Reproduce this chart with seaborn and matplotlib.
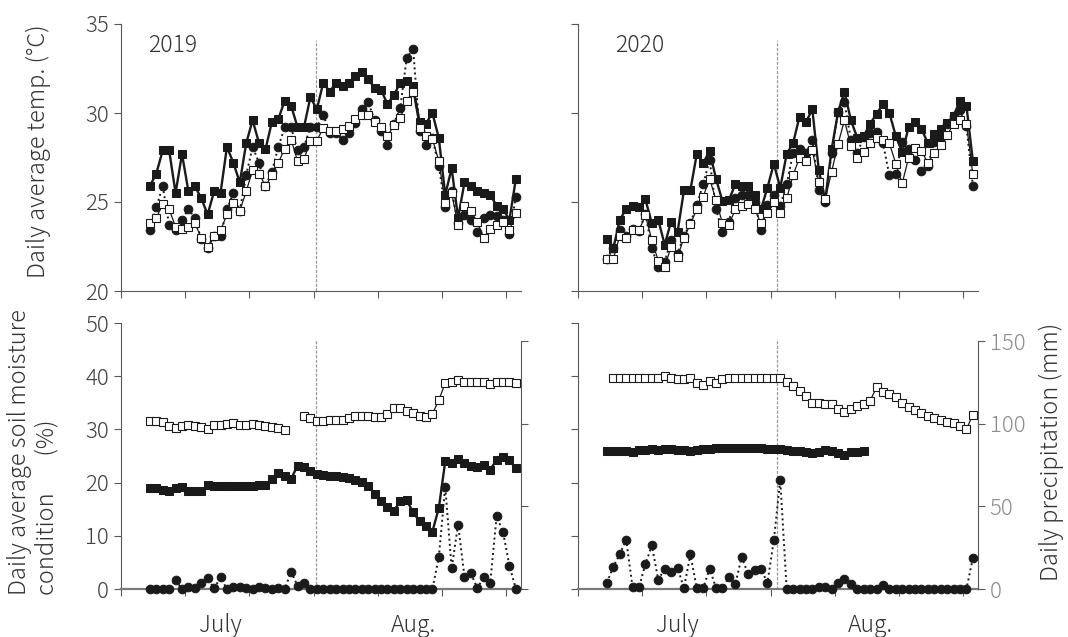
import numpy as np
import pandas as pd
import matplotlib
matplotlib.use("Agg")
import matplotlib.pyplot as plt
import seaborn as sns

sns.set_theme(style="ticks")
plt.rcParams["font.family"] = ["Noto Sans CJK JP", "DejaVu Sans"]
plt.rcParams["font.weight"] = "light"
plt.rcParams["font.size"] = 16

# days counted from 1 July (5 July .. 31 Aug.)
days = np.arange(5, 63)
years = ["2019", "2020"]
month_edge = [30.9, 31.5]
month_pos = [16, 46]
month_names = ["July", "Aug."]

# daily average temperature (degC)
temp19_fill = [25.9, 26.6, 27.9, 27.9, 25.5, 27.7, 25.6, 25.9, 25.2, 24.3,
               25.6, 25.5, 28.1, 27.2, 26.1, 28.3, 29.6, 28.3, 27.95, 29.5,
               29.65, 30.7, 30.4, 29.2, 29.2, 30.9, 30.2, 31.7, 31.2, 31.7,
               31.5, 31.7, 32.1, 32.3, 31.9, 31.4, 31.3, 30.5, 31.0, 31.7,
               31.8, 31.5, 29.5, 29.4, 30.0, 28.6, 25.4, 26.9, 24.1, 26.1,
               25.9, 25.6, 25.5, 25.4, 24.8, 24.6, 24.0, 26.3]
temp19_open = [23.8, 24.1, 24.9, 24.6, 23.6, 23.5, 23.6, 23.8, 23.0, 22.5,
               23.1, 23.4, 24.3, 24.95, 24.5, 25.6, 26.8, 26.6, 25.9, 26.5,
               27.2, 28.0, 28.5, 27.3, 27.4, 28.45, 28.45, 29.15, 29.0, 29.0,
               29.1, 29.25, 29.65, 29.9, 29.9, 29.5, 29.2, 28.7, 29.3, 29.7,
               30.7, 31.2, 29.15, 28.7, 28.55, 27.3, 24.95, 25.5, 23.7, 24.8,
               24.5, 23.85, 23.0, 23.5, 23.7, 23.9, 23.4, 24.4]
temp19_dot = [23.4, 24.7, 25.9, 23.7, 23.4, 24.0, 24.6, 24.1, 22.9, 22.4,
              23.1, 23.1, 24.6, 25.5, 24.5, 26.5, 28.1, 27.2, 25.9, 26.7,
              28.1, 29.2, 29.2, 27.9, 28.1, 29.2, 29.2, 29.9, 28.9, 28.9,
              28.5, 28.9, 29.45, 30.2, 30.6, 29.6, 29.0, 28.2, 29.4, 30.3,
              33.1, 33.6, 29.0, 28.2, 28.6, 27.0, 24.7, 25.6, 23.8, 24.25,
              24.0, 23.3, 24.1, 24.25, 24.2, 24.0, 23.2, 25.3]
temp20_fill = [22.9, 22.4, 24.0, 24.6, 24.8, 24.7, 25.15, 23.8, 24.0, 22.6,
               23.9, 23.3, 25.65, 25.65, 27.7, 27.2, 27.85, 26.3, 25.05, 25.1,
               26.0, 25.9, 25.9, 25.4, 24.6, 25.8, 27.15, 25.8, 27.7, 28.3,
               29.8, 29.5, 30.2, 26.8, 25.1, 27.95, 30.05, 31.2, 29.6, 28.6,
               28.7, 29.4, 29.95, 30.5, 30.0, 28.7, 27.8, 29.2, 29.5, 29.1,
               28.3, 28.8, 29.1, 29.45, 29.85, 30.7, 30.4, 27.3]
temp20_open = [21.8, 21.8, 23.1, 22.95, 23.45, 23.4, 24.25, 22.85, 21.7, 21.35,
               22.5, 21.9, 23.0, 23.75, 24.6, 25.3, 26.3, 25.1, 23.8, 23.7,
               24.6, 24.75, 24.9, 24.6, 23.8, 24.4, 25.0, 24.4, 25.2, 26.5,
               27.5, 27.3, 27.9, 26.15, 25.15, 26.7, 28.25, 29.6, 28.15, 27.5,
               27.8, 28.3, 28.6, 28.5, 28.3, 27.15, 26.05, 27.5, 28.05, 27.85,
               27.2, 27.75, 28.2, 28.75, 29.4, 29.6, 29.4, 26.55]
temp20_dot = [21.8, 22.4, 23.45, 23.1, 23.5, 23.35, 24.35, 22.4, 21.35, 21.65,
              22.85, 22.1, 23.1, 23.8, 24.85, 26.0, 27.35, 24.6, 23.3, 23.9,
              25.2, 25.4, 25.4, 25.0, 23.45, 24.85, 25.4, 24.8, 26.0, 27.75,
              28.0, 27.75, 28.5, 25.7, 25.0, 27.75, 30.05, 30.6, 28.5, 27.75,
              28.65, 28.9, 28.95, 28.3, 26.5, 26.6, 28.35, 27.95, 27.35, 26.75,
              27.05, 28.35, 28.65, 29.4, 29.85, 30.15, 29.25, 25.9]

# daily average soil moisture (%)
soil19_open = [31.5, 31.5, 31.3, 30.7, 30.3, 30.7, 30.9, 30.7, 30.4, 30.1,
               30.9, 30.9, 31.1, 31.2, 30.9, 30.9, 31.0, 30.8, 30.6, 30.5,
               30.3, 29.95, np.nan, np.nan, 32.6, 32.1, 31.6, 31.5, 31.8, 31.8,
               31.8, 32.1, 32.6, 32.6, 32.6, 32.3, 32.3, 32.9, 34.0, 34.0,
               33.5, 33.1, 32.6, 32.3, 32.9, 35.5, 38.7, 39.0, 39.2, 39.0,
               39.0, 39.0, 39.0, 38.6, 38.9, 39.0, 39.0, 38.7]
soil19_fill = [19.0, 18.9, 18.7, 18.5, 19.0, 19.1, 18.5, 18.4, 18.5, 19.5,
               19.3, 19.3, 19.3, 19.3, 19.3, 19.3, 19.3, 19.5, 19.6, 20.7,
               21.8, 21.2, 20.7, 23.2, 22.9, 22.1, 21.7, 21.4, 21.2, 21.2,
               21.1, 20.9, 20.55, 20.1, 19.4, 17.9, 16.5, 15.5, 14.7, 16.5,
               16.7, 14.4, 12.7, 11.8, 10.8, 15.2, 24.0, 23.6, 24.5, 23.6,
               23.1, 22.9, 23.4, 22.4, 24.3, 24.8, 24.2, 22.7]
soil20_open = [np.nan, 39.75, 39.75, 39.75, 39.75, 39.75, 39.75, 39.75, 39.75, 40.0,
               39.75, 39.4, 39.4, 39.6, 38.7, 38.3, 39.1, 38.7, 39.4, 39.7,
               39.75, 39.75, 39.75, 39.75, 39.75, 39.75, 39.75, 39.75, 38.9, 38.1,
               37.2, 36.2, 35.0, 34.9, 34.7, 34.7, 33.9, 33.3, 33.9, 34.4,
               34.7, 35.4, 37.9, 37.1, 36.7, 36.0, 35.0, 34.2, 33.6, 33.1,
               32.6, 32.2, 31.8, 31.4, 31.2, 30.6, 30.0, 32.8]
soil20_fill = [25.9, 26.0, 26.0, 26.0, 25.7, 26.1, 26.1, 26.4, 26.1, 26.4,
               26.4, 26.1, 26.1, 25.9, 26.1, 26.3, 26.4, 26.5, 26.5, 26.5,
               26.5, 26.5, 26.5, 26.5, 26.5, 26.4, 26.4, 26.4, 26.1, 25.9,
               25.9, 25.7, 25.6, 25.8, 26.1, 26.0, 25.5, 25.2, 25.7, 25.8,
               25.9] + [np.nan] * 17

# daily precipitation (mm)
rain19 = [0, 0, 0, 0, 5.5, 0, 1, 0.5, 3.4, 6.4,
          0.4, 7, 0, 1, 1, 0.5, 0, 1.5, 0.5, 0.3,
          0.5, 0, 10.5, 1.8, 3.4, 0, 0, 0, 0, 0,
          0, 0, 0, 0, 0, 0, 0, 0, 0, 0,
          0, 0, 0, 0, 0, 19.3, 62, 12.5, 39, 7.3,
          9.4, 0.4, 7.3, 3.4, 44, 34.5, 14, 0]
rain20 = [3.8, 13.5, 21, 29.8, 1, 1, 15, 26.5, 5.6, 12.1,
          10.3, 13, 0.5, 21, 0.4, 0.4, 12.4, 0.5, 0.5, 7,
          3.1, 19.4, 8.8, 11.2, 12.1, 3.8, 29.5, 66, 0, 0,
          0, 0, 0.3, 1.2, 1.2, 0.3, 3.6, 5.9, 3.2, 0,
          0, 0, 0, 2.2, 0, 0, 0, 0, 0, 0,
          0, 0, 0, 0, 0, 0, 0, 18.7]

ink = "#1a1a1a"
fill_kw = dict(marker="s", markersize=5.8, color=ink, markerfacecolor=ink,
               markeredgecolor=ink, linewidth=1.7)
open_kw = dict(marker="s", markersize=6, color=ink, markerfacecolor="white",
               markeredgecolor=ink, markeredgewidth=0.8, linewidth=0.9)
dot_kw = dict(marker="o", markersize=6.2, color=ink, markerfacecolor=ink,
              markeredgecolor=ink, linestyle=":", linewidth=1.4)


def draw(ax, values, kw, z):
    # break the line where values are missing
    df = pd.DataFrame({"day": days, "value": values})
    df["part"] = df["value"].isna().cumsum()
    df = df.dropna()
    sns.lineplot(data=df, x="day", y="value", units="part", estimator=None,
                 ax=ax, zorder=z, clip_on=False, **kw)
    ax.set(xlabel="", ylabel="")


def style(ax, bottom_row):
    ax.set_xlim(0.5, 62.8)
    ax.set_xticks(np.arange(0.5, 61, 10))
    ax.set_xticklabels([])
    for s in ["left", "bottom"]:
        ax.spines[s].set_color("#595959")
        ax.spines[s].set_linewidth(0.8)
    ax.spines["top"].set_visible(False)
    ax.spines["right"].set_visible(False)
    ax.tick_params(colors="#595959", labelcolor="#404040", length=5,
                   width=0.8, labelsize=16)
    if bottom_row:
        ax.spines["bottom"].set_color("#7a7a7a")
        ax.spines["bottom"].set_linewidth(1.6)
        ax.set_xticks(month_pos, month_names, minor=True)
        ax.tick_params(axis="x", which="minor", length=0, pad=17,
                       labelsize=16.5, labelcolor="#333333")


W, H = 1068, 637
fig = plt.figure(figsize=(W / 100, H / 100), dpi=100)


def px_axes(l, t, r, b):
    return fig.add_axes([l / W, 1 - b / H, (r - l) / W, (b - t) / H])


temps = [(temp19_fill, temp19_open, temp19_dot),
         (temp20_fill, temp20_open, temp20_dot)]
soils = [(soil19_fill, soil19_open, rain19),
         (soil20_fill, soil20_open, rain20)]
lefts = [121, 578]

for k in range(2):
    l = lefts[k]
    # temperature
    ax = px_axes(l, 24, l + 400, 291)
    t_fill, t_open, t_dot = temps[k]
    draw(ax, t_fill, fill_kw, 3)
    draw(ax, t_dot, dot_kw, 4)
    draw(ax, t_open, open_kw, 5)
    ax.set_ylim(20, 35)
    ax.set_yticks([20, 25, 30, 35])
    style(ax, False)
    if k == 1:
        ax.set_yticklabels([])
    ax.axvline(month_edge[k], ymin=0, ymax=0.94, color="#9a9a9a", lw=0.9,
               ls=(0, (2.5, 1.2)), zorder=1)
    ax.text(0.068 if k == 0 else 0.093, 0.965, years[k], transform=ax.transAxes,
            ha="left", va="top", fontsize=16.5, color="#333333")

    # soil moisture + precipitation
    ax = px_axes(l, 323, l + 400, 589)
    s_fill, s_open, rain = soils[k]
    draw(ax, s_fill, fill_kw, 3)
    draw(ax, s_open, open_kw, 4)
    ax.set_ylim(0, 50)
    ax.set_yticks([0, 10, 20, 30, 40, 50])
    style(ax, True)
    if k == 1:
        ax.set_yticklabels([])
    ax.axvline(month_edge[k], ymin=0, ymax=0.94, color="#9a9a9a", lw=0.9,
               ls=(0, (2.5, 1.2)), zorder=1)

    ax2 = ax.twinx()
    draw(ax2, rain, dot_kw, 5)
    ax2.set_ylim(0, 161)
    ax2.set_yticks([0, 50, 100, 150])
    for s in ["top", "left", "bottom"]:
        ax2.spines[s].set_visible(False)
    ax2.spines["right"].set_bounds(0, 150)
    ax2.spines["right"].set_color("#595959")
    ax2.spines["right"].set_linewidth(0.8)
    ax2.tick_params(axis="y", colors="#595959", labelcolor="#8c8c8c",
                    length=5, width=0.8, labelsize=16)
    if k == 0:
        ax2.set_yticklabels([])

fig.text(38 / W, 1 - 151 / H, "Daily average temp. (°C)", rotation=90,
         ha="center", va="center", fontsize=17, color="#333333")
fig.text(33 / W, 1 - 452 / H,
         "Daily average soil moisture\ncondition       (%)",
         rotation=90, ha="center", va="center", multialignment="left",
         fontsize=17, color="#333333", linespacing=1.1)
fig.text(1051 / W, 1 - 452 / H, "Daily precipitation (mm)", rotation=90,
         ha="center", va="center", fontsize=17, color="#333333")

fig.savefig("out.png", dpi=100)
